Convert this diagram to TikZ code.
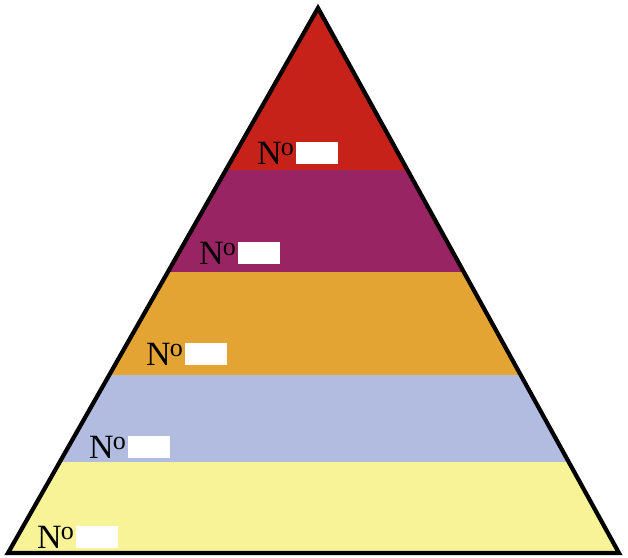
\documentclass[tikz,border=0pt]{standalone}
\usepackage{fontspec}
\setmainfont{Liberation Serif}
\usetikzlibrary{positioning}

\definecolor{tierred}{RGB}{198,34,26}
\definecolor{tierpurple}{RGB}{152,36,100}
\definecolor{tierorange}{RGB}{228,164,52}
\definecolor{tierblue}{RGB}{178,188,224}
\definecolor{tieryellow}{RGB}{248,243,150}

\newcommand{\numsign}{N\kern-1pt\raisebox{0.26em}{\fontsize{26}{26}\selectfont o}}

\begin{document}
\begin{tikzpicture}[
  x=1pt, y=-1pt,
  num/.style={anchor=base west, inner sep=0pt, font=\fontsize{34}{34}\selectfont},
  blank/.style={fill=white, minimum width=42pt, minimum height=22pt, inner sep=0pt},
  edge/.style={draw=black, line width=4.2pt, line join=miter},
]
\useasboundingbox (0,0) rectangle (628,557);

\coordinate (apex) at (318,8);
\coordinate (bl) at (8,553);
\coordinate (br) at (619,553);

% bands
\begin{scope}
  \clip (apex) -- (br) -- (bl) -- cycle;
  \fill[tierred]    (0,0)   rectangle (628,170);
  \fill[tierpurple] (0,170) rectangle (628,272);
  \fill[tierorange] (0,272) rectangle (628,375);
  \fill[tierblue]   (0,375) rectangle (628,462);
  \fill[tieryellow] (0,462) rectangle (628,557);
\end{scope}
\draw[edge] (apex) -- (br) -- (bl) -- cycle;

% labels
\node[num] (n1) at (257,164) {\numsign};
\node[blank, right=2pt of n1] (b1) {};
\node[num] (n2) at (199,264) {\numsign};
\node[blank, right=2pt of n2] (b2) {};
\node[num] (n3) at (146,365) {\numsign};
\node[blank, right=2pt of n3] (b3) {};
\node[num] (n4) at (89,458) {\numsign};
\node[blank, right=2pt of n4] (b4) {};
\node[num] (n5) at (37,548) {\numsign};
\node[blank, right=2pt of n5] (b5) {};
\end{tikzpicture}
\end{document}
